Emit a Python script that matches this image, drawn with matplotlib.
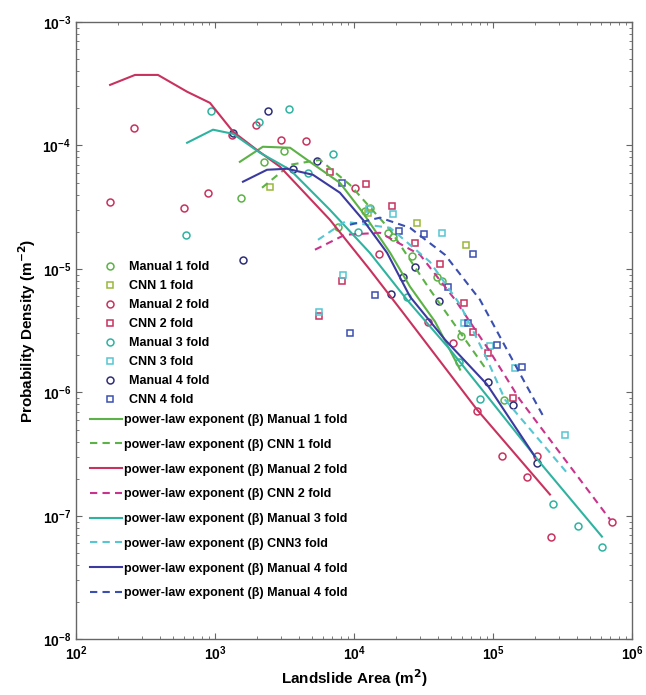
import matplotlib
matplotlib.use('Agg')
import matplotlib.pyplot as plt

plt.rcParams['font.family'] = ['Liberation Sans', 'DejaVu Sans']
plt.rcParams['mathtext.default'] = 'bf'

# ---- 散点数据 (面积 m2, 概率密度 m-2) ----
manual1_area = [1540, 3130, 2250, 7670, 12000, 13000, 17600, 19100, 26100, 39500, 43000, 58900, 120000]
manual1_pd = [3.77e-5, 9.0e-5, 7.4e-5, 2.19e-5, 2.96e-5, 3.13e-5, 1.96e-5, 1.82e-5, 1.28e-5, 8.65e-6, 8.0e-6, 2.88e-6, 8.75e-7]

cnn1_area = [2490, 12600, 28400, 64000]
cnn1_pd = [4.62e-5, 2.85e-5, 2.37e-5, 1.57e-5]

manual2_area = [176, 261, 598, 891, 1320, 1970, 2990, 4520, 10200, 15100, 34000, 51500,
                76700, 116000, 207000, 176000, 261000, 718000]
manual2_pd = [3.5e-5, 1.39e-4, 3.13e-5, 4.14e-5, 1.22e-4, 1.47e-4, 1.11e-4, 1.09e-4, 4.54e-5, 1.33e-5,
              3.74e-6, 2.53e-6, 7.13e-7, 3.08e-7, 3.03e-7, 2.08e-7, 6.8e-8, 9.0e-8]

cnn2_area = [6710, 12200, 18700, 27500, 41600, 61800, 71700, 92000, 139000, 8200, 5600]
cnn2_pd = [6.1e-5, 4.89e-5, 3.24e-5, 1.63e-5, 1.10e-5, 5.33e-6, 3.1e-6, 2.1e-6, 9.08e-7, 8.04e-6, 4.18e-6]

manual3_area = [618, 935, 2070, 3400, 4670, 7060, 10700, 24000, 56900, 80500, 271000, 409000, 608000]
manual3_pd = [1.89e-5, 1.9e-4, 1.55e-4, 1.98e-4, 6.0e-5, 8.55e-5, 2.0e-5, 5.96e-6, 1.77e-6, 8.9e-7,
              1.26e-7, 8.36e-8, 5.55e-8]

cnn3_area = [12800, 19100, 43000, 61800, 95100, 144000, 330000, 8340, 5600]
cnn3_pd = [3.07e-5, 2.8e-5, 1.96e-5, 3.67e-6, 2.39e-6, 1.59e-6, 4.56e-7, 8.97e-6, 4.51e-6]

manual4_area = [1590, 2400, 1350, 3640, 5420, 27500, 22500, 18500, 40900, 92000, 139000, 207000]
manual4_pd = [1.19e-5, 1.9e-4, 1.26e-4, 6.47e-5, 7.5e-5, 1.04e-5, 8.65e-6, 6.3e-6, 5.53e-6, 1.22e-6,
              7.96e-7, 2.7e-7]

cnn4_area = [8200, 21100, 31900, 71700, 47400, 14200, 9350, 66100, 107000, 162000]
cnn4_pd = [4.98e-5, 2.04e-5, 1.93e-5, 1.33e-5, 7.18e-6, 6.18e-6, 3.05e-6, 3.67e-6, 2.44e-6, 1.62e-6]

# ---- 拟合曲线 ----
fit_m1_area = [1510, 2210, 3470, 4820, 7920, 11600, 18200, 25300, 38300, 58000]
fit_m1_pd = [7.36e-5, 9.75e-5, 9.57e-5, 7.36e-5, 4.98e-5, 2.85e-5, 1.35e-5, 7.18e-6, 3.74e-6, 1.53e-6]

fit_c1_area = [2180, 3470, 5690, 9350, 18200, 35200, 87500]
fit_c1_pd = [4.54e-5, 6.97e-5, 7.64e-5, 4.8e-5, 2.07e-5, 6.79e-6, 1.59e-6]

fit_m2_area = [176, 266, 389, 630, 920, 1350, 2000, 2940, 6710, 13000, 22500, 76700, 257000]
fit_m2_pd = [3.09e-4, 3.72e-4, 3.72e-4, 2.72e-4, 2.21e-4, 1.29e-4, 9.2e-5, 6.71e-5, 2.5e-5, 9.86e-6,
             4.43e-6, 7.26e-7, 1.49e-7]

fit_c2_area = [5240, 8610, 15400, 29900, 53300, 95100, 156000, 695000]
fit_c2_pd = [1.43e-5, 1.89e-5, 1.96e-5, 1.3e-5, 5.64e-6, 2.14e-6, 8.75e-7, 9.35e-8]

fit_m3_area = [630, 968, 1350, 2110, 3470, 6710, 13000, 24000, 49100, 95100, 218000, 608000]
fit_m3_pd = [1.05e-4, 1.34e-4, 1.24e-4, 8.71e-5, 6.35e-5, 3.01e-5, 1.35e-5, 5.64e-6, 2.22e-6, 8.75e-7,
             2.7e-7, 6.8e-8]

fit_c3_area = [5510, 8610, 18200, 35200, 58000, 87500, 122000, 340000]
fit_c3_pd = [1.72e-5, 2.41e-5, 2.15e-5, 1.14e-5, 5.13e-6, 2.02e-6, 8.75e-7, 2.24e-7]

fit_m4_area = [1590, 2370, 3300, 5070, 7920, 11600, 17300, 25300, 45200, 90600, 200000]
fit_m4_pd = [5.08e-5, 6.35e-5, 6.47e-5, 5.78e-5, 4.14e-5, 2.5e-5, 1.35e-5, 5.96e-6, 2.67e-6, 1.16e-6, 3.03e-7]

fit_c4_area = [9350, 15400, 25300, 45200, 80500, 144000, 237000]
fit_c4_pd = [2.28e-5, 2.6e-5, 2.15e-5, 1.3e-5, 5.64e-6, 1.68e-6, 6.03e-7]

fig = plt.figure(figsize=(6.46, 6.95), dpi=100)
ax = fig.add_axes([0.1176, 0.080, 0.8607, 0.8885])

green = '#5cb246'
green_sq = '#98b83a'
crimson = '#c8325e'
magenta = '#c8348c'
teal = '#2fb3a0'
cyan = '#55c6d2'
navy = '#2e2e78'
blue = '#3a4fb0'

ms = 5
mew = 1.1
pts = []
pts.append(ax.plot(manual1_area, manual1_pd, 'o', mfc='none', mec=green, ms=ms, mew=mew, label='Manual 1 fold')[0])
pts.append(ax.plot(cnn1_area, cnn1_pd, 's', mfc='none', mec=green_sq, ms=ms - 0.5, mew=mew, label='CNN 1 fold')[0])
pts.append(ax.plot(manual2_area, manual2_pd, 'o', mfc='none', mec=crimson, ms=ms, mew=mew, label='Manual 2 fold')[0])
pts.append(ax.plot(cnn2_area, cnn2_pd, 's', mfc='none', mec=crimson, ms=ms - 0.5, mew=mew, label='CNN 2 fold')[0])
pts.append(ax.plot(manual3_area, manual3_pd, 'o', mfc='none', mec=teal, ms=ms, mew=mew, label='Manual 3 fold')[0])
pts.append(ax.plot(cnn3_area, cnn3_pd, 's', mfc='none', mec=cyan, ms=ms - 0.5, mew=mew, label='CNN 3 fold')[0])
pts.append(ax.plot(manual4_area, manual4_pd, 'o', mfc='none', mec=navy, ms=ms, mew=mew, label='Manual 4 fold')[0])
pts.append(ax.plot(cnn4_area, cnn4_pd, 's', mfc='none', mec=blue, ms=ms - 0.5, mew=mew, label='CNN 4 fold')[0])

lw = 1.5
dash = (0, (3.5, 2.5))
lines = []
lines.append(ax.plot(fit_m1_area, fit_m1_pd, '-', color=green, lw=lw, label='power-law exponent (β) Manual 1 fold')[0])
lines.append(ax.plot(fit_c1_area, fit_c1_pd, linestyle=dash, color=green, lw=lw, label='power-law exponent (β) CNN 1 fold')[0])
lines.append(ax.plot(fit_m2_area, fit_m2_pd, '-', color=crimson, lw=lw, label='power-law exponent (β) Manual 2 fold')[0])
lines.append(ax.plot(fit_c2_area, fit_c2_pd, linestyle=dash, color=magenta, lw=lw, label='power-law exponent (β) CNN 2 fold')[0])
lines.append(ax.plot(fit_m3_area, fit_m3_pd, '-', color=teal, lw=lw, label='power-law exponent (β) Manual 3 fold')[0])
lines.append(ax.plot(fit_c3_area, fit_c3_pd, linestyle=dash, color=cyan, lw=lw, label='power-law exponent (β) CNN3 fold')[0])
lines.append(ax.plot(fit_m4_area, fit_m4_pd, '-', color='#3a3aa0', lw=lw, label='power-law exponent (β) Manual 4 fold')[0])
lines.append(ax.plot(fit_c4_area, fit_c4_pd, linestyle=dash, color=blue, lw=lw, label='power-law exponent (β) Manual 4 fold')[0])

ax.set_xscale('log')
ax.set_yscale('log')
ax.set_xlim(1e2, 1e6)
ax.set_ylim(1e-8, 1e-3)

for s in ax.spines.values():
    s.set_color('#666666')
    s.set_linewidth(1.0)
ax.tick_params(which='both', direction='in', top=True, right=True, colors='#666666',
               labelcolor='black', labelsize=10)
ax.tick_params(which='major', length=4)
ax.tick_params(which='minor', length=2)
for t in ax.get_xticklabels() + ax.get_yticklabels():
    t.set_fontweight('bold')

ax.set_xlabel('Landslide Area (m$^2$)', fontsize=11, fontweight='bold', labelpad=3)
ax.set_ylabel('Probability Density (m$^{-2}$)', fontsize=11, fontweight='bold', labelpad=3)

leg1 = ax.legend(handles=pts, loc='upper left', bbox_to_anchor=(0.05, 0.612), frameon=False,
                 prop={'weight': 'bold', 'size': 9}, handlelength=1.0, handletextpad=1.0,
                 labelspacing=0.56, borderpad=0, borderaxespad=0)
ax.add_artist(leg1)
ax.legend(handles=lines, loc='upper left', bbox_to_anchor=(0.025, 0.365), frameon=False,
          prop={'weight': 'bold', 'size': 9}, handlelength=2.6, handletextpad=0.15,
          labelspacing=1.02, borderpad=0, borderaxespad=0)

fig.savefig('out.png', dpi=100, facecolor='white')
